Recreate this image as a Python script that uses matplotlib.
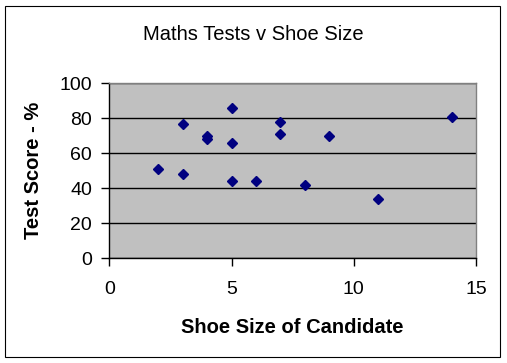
import matplotlib
matplotlib.use("Agg")
import matplotlib.pyplot as plt
from matplotlib.patches import Rectangle

# Shoe size vs maths test score
shoe_size = [2, 3, 3, 4, 4, 5, 5, 5, 6, 7, 7, 8, 9, 11, 14]
test_score = [51, 77, 48, 70, 68, 86, 66, 44, 44, 78, 71, 42, 70, 34, 81]

x_ticks = [0, 5, 10, 15]
y_ticks = [0, 20, 40, 60, 80, 100]

plt.rcParams['font.family'] = ['Liberation Sans', 'DejaVu Sans']

fig = plt.figure(figsize=(5.07, 3.63), dpi=100)
fig.patch.set_facecolor('white')

# cadre extérieur du graphique
fig.patches.append(Rectangle((5 / 507, 6 / 363), 495 / 507, 351 / 363,
                             transform=fig.transFigure, fill=False,
                             edgecolor='black', linewidth=0.8))

ax = fig.add_axes([0.2156, 0.2884, 0.7233, 0.4821])
ax.set_facecolor('#C0C0C0')
ax.set_xlim(0, 15)
ax.set_ylim(0, 100)
ax.set_xticks(x_ticks)
ax.set_yticks(y_ticks)

ax.yaxis.grid(True, color='black', linewidth=1.0)
ax.set_axisbelow(True)

ax.plot(shoe_size, test_score, linestyle='none', marker='D', markersize=4.8,
        color='#000080', zorder=3)

for side in ['top', 'right']:
    ax.spines[side].set_color('#808080')
    ax.spines[side].set_linewidth(1.0)
for side in ['left', 'bottom']:
    ax.spines[side].set_color('black')
    ax.spines[side].set_linewidth(1.0)

ax.tick_params(axis='both', direction='out', length=5.5, width=1.0,
               labelsize=14, color='black')
ax.tick_params(axis='y', pad=7)
ax.tick_params(axis='x', pad=11)

ax.set_xlabel('Shoe Size of Candidate', fontsize=14.5, fontweight='bold',
              va='center')
ax.set_ylabel('Test Score - %', fontsize=14.5, fontweight='bold',
              va='center')
ax.xaxis.set_label_coords(0.5, -0.393)
ax.yaxis.set_label_coords(-0.208, 0.5)

fig.text(253 / 507, 1 - 34 / 363, 'Maths Tests v Shoe Size', fontsize=14.5,
         ha='center', va='center')

plt.savefig('out.png', dpi=100)
